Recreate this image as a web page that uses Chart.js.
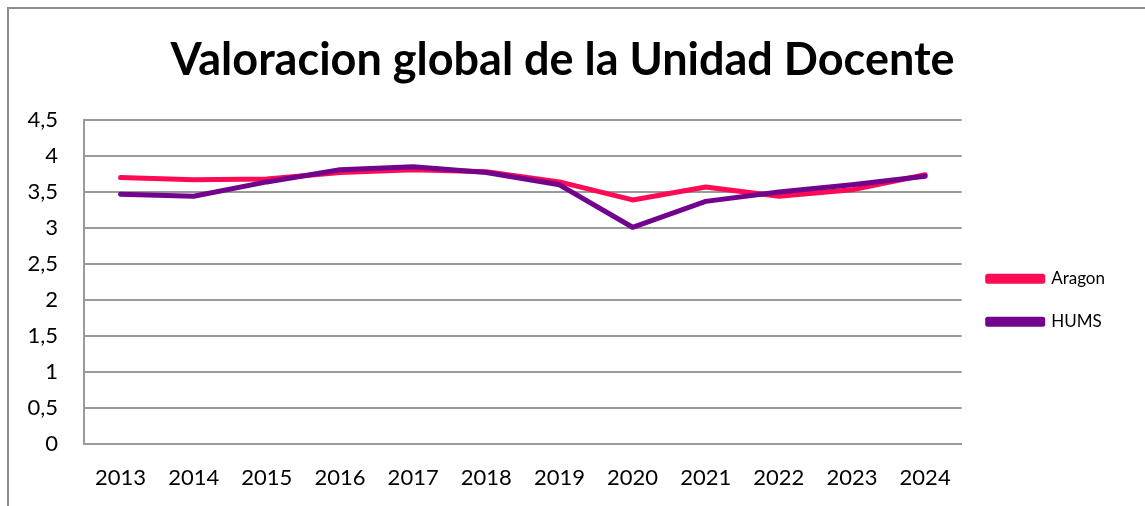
<!DOCTYPE html>
<html>
<head>
<meta charset="utf-8">
<script src="https://cdn.jsdelivr.net/npm/chart.js@4/dist/chart.umd.min.js"></script>
<style>
  html, body { margin: 0; padding: 0; background: #fff; overflow: hidden; }
  #frame { position: absolute; left: 7px; top: 7px; width: 1200px; height: 600px; border: 2px solid #8c8c8c; }
  #wrap { position: absolute; left: 0; top: 0; width: 1145px; height: 506px; }
</style>
</head>
<body>
<div id="frame"></div>
<div id="wrap"><canvas id="chart" width="1145" height="506"></canvas></div>
<script>
// datos del grafico
const years = ["2013", "2014", "2015", "2016", "2017", "2018", "2019", "2020", "2021", "2022", "2023", "2024"];
const aragon = [3.70, 3.67, 3.68, 3.77, 3.81, 3.78, 3.64, 3.39, 3.57, 3.44, 3.53, 3.74];
const hums = [3.47, 3.44, 3.64, 3.81, 3.85, 3.77, 3.60, 3.01, 3.37, 3.50, 3.60, 3.72];
const yTickLabels = ["0", "0,5", "1", "1,5", "2", "2,5", "3", "3,5", "4", "4,5"];

const font = "Lato, 'Open Sans', sans-serif";
const grey = "#9a9a9a";

new Chart(document.getElementById("chart"), {
    type: 'line',
    data: {
        labels: years,
        datasets: [
            { label: 'Aragon', data: aragon, borderColor: '#FF0A54', backgroundColor: '#FF0A54', order: 1 },
            { label: 'HUMS', data: hums, borderColor: '#71038C', backgroundColor: '#71038C', order: 0 }
        ]
    },
    options: {
        responsive: false,
        animation: false,
        layout: { padding: { left: 10, right: 30, top: 0, bottom: 0 } },
        elements: {
            line: { borderWidth: 5, tension: 0, borderCapStyle: 'round', borderJoinStyle: 'round' },
            point: { radius: 0, hoverRadius: 0 }
        },
        plugins: {
            title: {
                display: true,
                text: 'Valoracion global de la Unidad Docente',
                color: '#000',
                font: { family: font, size: 45, weight: 'bold' },
                padding: { top: 33, bottom: 33 }
            },
            legend: {
                position: 'right',
                title: { display: true, text: ' ', font: { size: 2 }, padding: { top: 92, bottom: 0 } },
                labels: {
                    sort: (a, b) => a.datasetIndex - b.datasetIndex,
                    boxWidth: 55,
                    boxHeight: 5,
                    padding: 26,
                    color: '#000',
                    font: { family: font, size: 17 }
                }
            },
            tooltip: { enabled: false }
        },
        scales: {
            x: {
                offset: true,
                grid: { display: false, drawTicks: false },
                border: { display: true, color: grey, width: 2 },
                ticks: { color: '#000', padding: 21, maxRotation: 0, font: { family: font, size: 22 } },
                afterFit: s => { s.height = 62; }
            },
            y: {
                min: 0,
                max: 4.5,
                grid: { color: grey, lineWidth: 2, drawTicks: false },
                border: { display: true, color: grey, width: 2 },
                ticks: {
                    stepSize: 0.5,
                    color: '#000',
                    padding: 26,
                    font: { family: font, size: 22 },
                    callback: (v, i) => yTickLabels[i]
                },
                afterFit: s => { s.width = 74; }
            }
        }
    }
});
</script>
</body>
</html>
